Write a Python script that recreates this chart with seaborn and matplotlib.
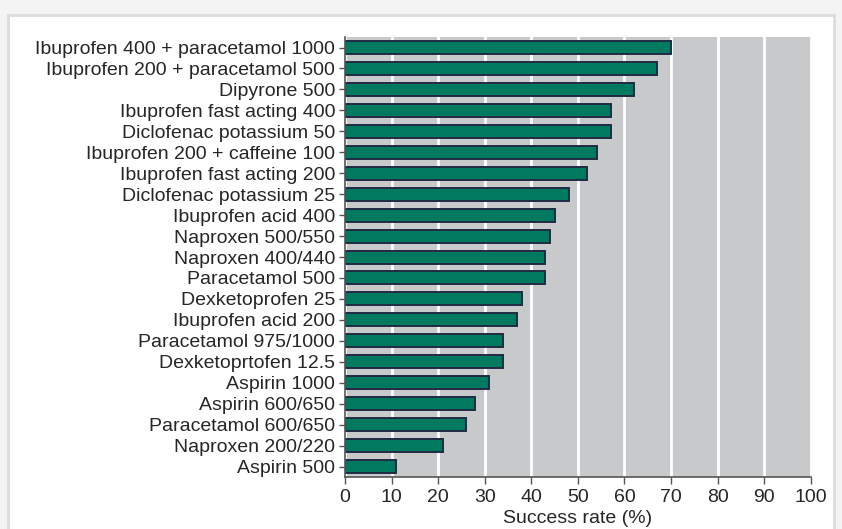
import pandas as pd
import seaborn as sns
import matplotlib.pyplot as plt
from matplotlib.patches import Rectangle

drugs = ['Ibuprofen 400 + paracetamol 1000', 'Ibuprofen 200 + paracetamol 500',
         'Dipyrone 500', 'Ibuprofen fast acting 400', 'Diclofenac potassium 50',
         'Ibuprofen 200 + caffeine 100', 'Ibuprofen fast acting 200',
         'Diclofenac potassium 25', 'Ibuprofen acid 400', 'Naproxen 500/550',
         'Naproxen 400/440', 'Paracetamol 500', 'Dexketoprofen 25',
         'Ibuprofen acid 200', 'Paracetamol 975/1000', 'Dexketoprtofen 12.5',
         'Aspirin 1000', 'Aspirin 600/650', 'Paracetamol 600/650',
         'Naproxen 200/220', 'Aspirin 500']
success = [70, 67, 62, 57, 57, 54, 52, 48, 45, 44, 43, 43, 38, 37, 34, 34,
           31, 28, 26, 21, 11]
xticks = list(range(0, 101, 10))

df = pd.DataFrame({'drug': drugs, 'success': success})

sns.set_style('white')
plt.rcParams['font.family'] = ['Liberation Sans', 'DejaVu Sans']

fig = plt.figure(figsize=(8.42, 5.29), dpi=100, facecolor='#f4f4f4')
# white card with a soft edge, like the page it was cut from
fig.patches.append(Rectangle((0.01, -0.01), 0.98, 0.982, transform=fig.transFigure,
                             facecolor='white', edgecolor='#dcdcdc',
                             linewidth=2, zorder=-10))

ax = fig.add_axes([0.4097, 0.0983, 0.5533, 0.8317])
ax.set_facecolor('#c8c9cb')

sns.barplot(data=df, x='success', y='drug', orient='h', color='#007a5e',
            edgecolor='#1f2a44', linewidth=1.4, width=0.62, saturation=1,
            ax=ax)

ax.set_xlim(0, 100)
ax.set_ylim(len(drugs) - 0.5, -0.5)
ax.set_xticks(xticks)
ax.set_xticklabels([str(t) for t in xticks], fontsize=14)
ax.tick_params(axis='y', labelsize=14, length=4, width=1, color='#555555',
               pad=3, left=True)
ax.tick_params(axis='x', length=5, width=1, color='#555555', bottom=True)
ax.xaxis.grid(True, color='white', linewidth=2)
ax.set_axisbelow(True)
ax.set_xlabel('Success rate (%)', fontsize=14, labelpad=3)
ax.set_ylabel('')
for s in ['top', 'right']:
    ax.spines[s].set_visible(False)
for s in ['left', 'bottom']:
    ax.spines[s].set_color('#555555')
    ax.spines[s].set_linewidth(1.2)

fig.savefig('out.png', dpi=100, facecolor=fig.get_facecolor())
